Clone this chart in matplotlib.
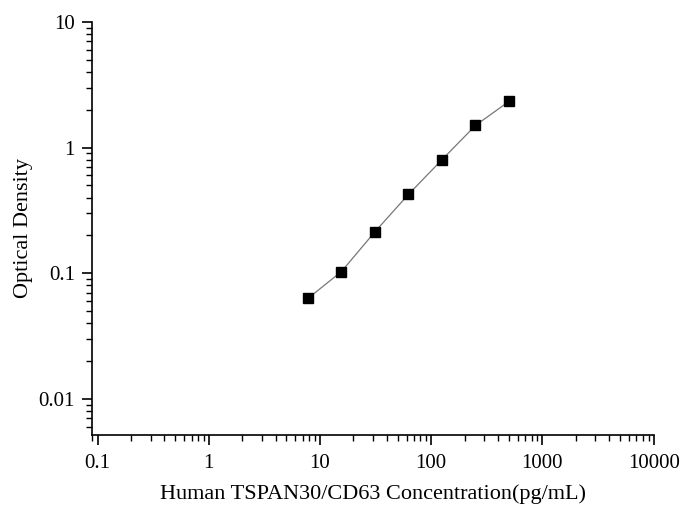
import numpy as np
import matplotlib
matplotlib.use("Agg")
import matplotlib.pyplot as plt

conc = [7.8, 15.6, 31.25, 62.5, 125, 250, 500]
od = [0.063, 0.103, 0.214, 0.424, 0.80, 1.50, 2.33]

plt.rcParams['font.family'] = ['Liberation Serif', 'DejaVu Serif']

fig = plt.figure(figsize=(6.83, 5.11), dpi=100)
ax = fig.add_axes([0.134, 0.149, 0.823, 0.808])

ax.plot(conc, od, color='#777777', linewidth=0.9, zorder=2)
ax.plot(conc, od, linestyle='none', marker='s', markersize=7, color='black', zorder=3)

ax.set_xscale('log')
ax.set_yscale('log')
ax.set_xlim(0.0883, 10000)
ax.set_ylim(0.00516, 10)

ax.set_xticks([0.1, 1, 10, 100, 1000, 10000])
ax.set_xticklabels(['0.1', '1', '10', '100', '1000', '10000'])
ax.set_yticks([0.01, 0.1, 1, 10])
ax.set_yticklabels(['0.01', '0.1', '1', '10'])

for s in ['top', 'right']:
    ax.spines[s].set_visible(False)
for s in ['left', 'bottom']:
    ax.spines[s].set_linewidth(1.2)

ax.tick_params(which='major', direction='out', length=7, width=1.2, labelsize=15)
ax.tick_params(axis='y', which='major', pad=5)
ax.tick_params(axis='x', which='major', pad=7)
ax.tick_params(which='minor', direction='out', length=4, width=1.0)

ax.set_xlabel('Human TSPAN30/CD63 Concentration(pg/mL)', fontsize=16, labelpad=8)
ax.set_ylabel('Optical Density', fontsize=16, labelpad=4)

fig.savefig('out.png', dpi=100)
